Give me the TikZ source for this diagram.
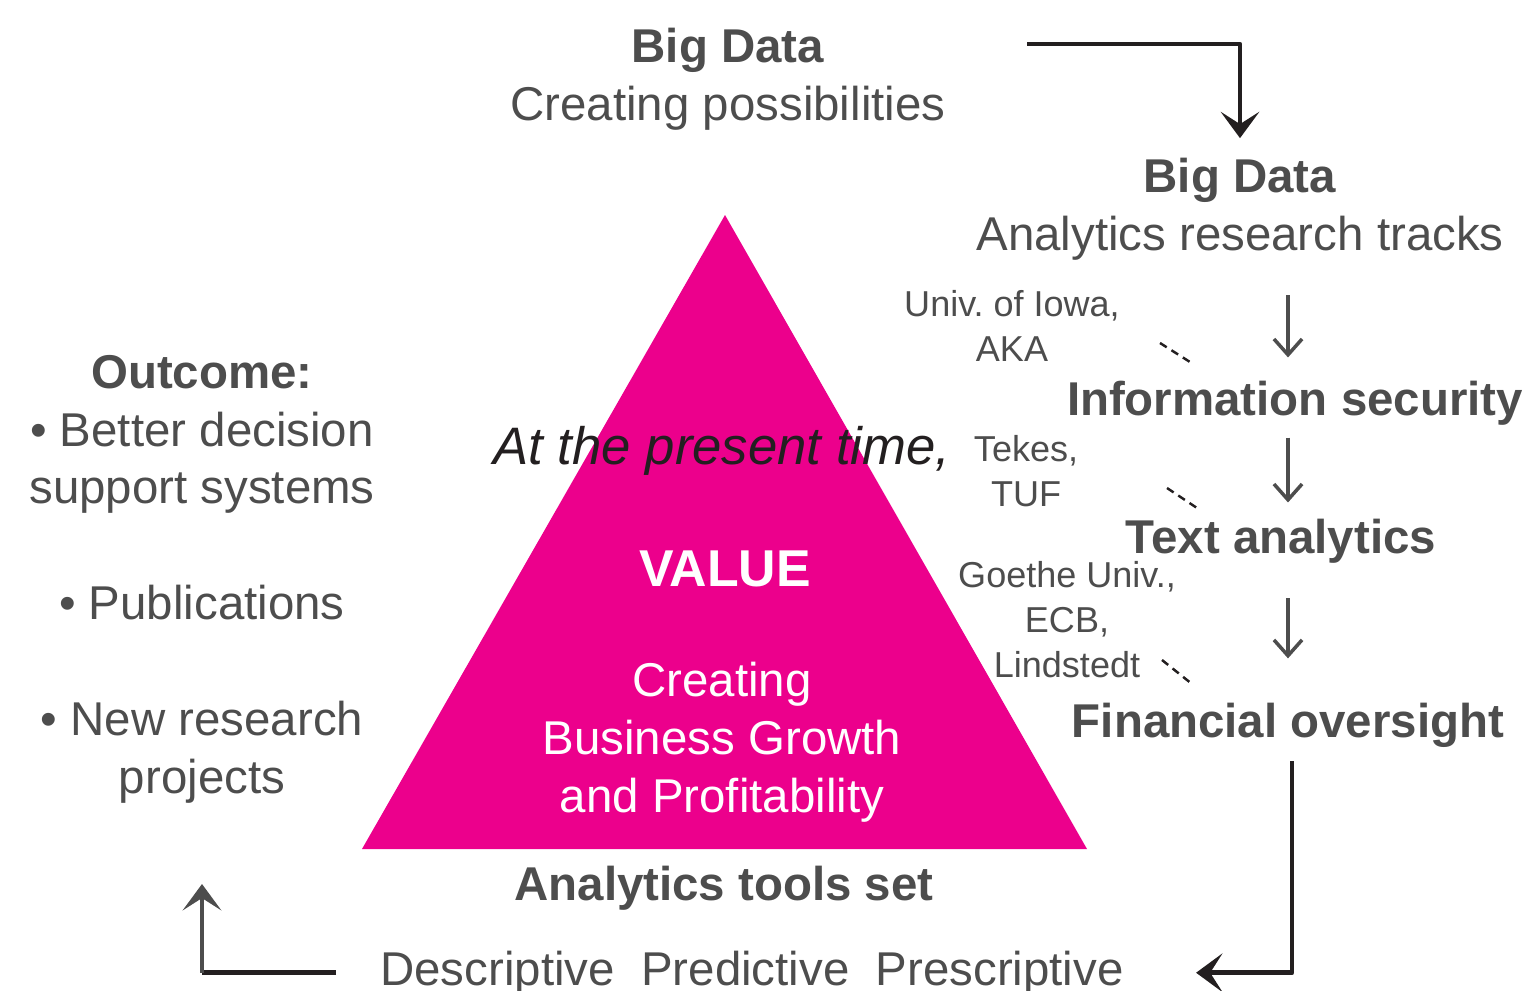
\documentclass[tikz,border=0pt]{standalone}
\usepackage{fontspec}
\setmainfont{Liberation Sans}
\usetikzlibrary{arrows.meta}
\definecolor{txtgrey}{HTML}{4D4D4D}
\definecolor{inkblack}{HTML}{231F20}
\definecolor{valuepink}{HTML}{EC008C}
\newcommand\bigsize{\fontsize{27}{32.9}\selectfont}
\newcommand\notesize{\fontsize{20.5}{25.5}\selectfont}
\newcommand\italsize{\fontsize{30}{36}\selectfont}
\newcommand\valsize{\fontsize{29.5}{36}\selectfont}
\frenchspacing
\begin{document}
\begin{tikzpicture}[x=0.02cm,y=-0.02cm,line join=round,
	txt/.style={font=\bigsize,text=txtgrey,inner sep=0pt,align=center,anchor=base},
	ttl/.style={txt,font=\bigsize\bfseries},
	note/.style={txt,font=\notesize},
	blkarr/.style={draw=inkblack,line width=2.6pt,-{Stealth[length=15pt,width=22pt,inset=7pt]}},
	grarr/.style={draw=txtgrey,line width=2pt,-{Straight Barb[length=9pt,width=16pt]}},
	dsh/.style={draw=inkblack,line width=1.4pt,dash pattern=on 4.5pt off 3.2pt}]
	\useasboundingbox (0,0) rectangle (1529,991);
	% value triangle
	\fill[valuepink] (725,215)--(1087,849)--(362,849)--cycle;
	\path
	(728,120) node[txt] (possib) {\textbf{Big Data}\\Creating possibilities}
	(1240,250) node[txt] (tracks) {\textbf{Big Data}\\Analytics research tracks}
	(1295,415) node[ttl] (infosec) {Information security}
	(1281,553) node[ttl] (textan) {Text analytics}
	(1288,737) node[ttl] (finover) {Financial oversight}
	(1012,361) node[note] (iowa) {Univ. of Iowa,\\AKA}
	(1026,506) node[note] (tekes) {Tekes,\\TUF}
	(1067,677) node[note] (goethe) {Goethe Univ.,\\ECB,\\Lindstedt}
	(202,793) node[txt] (outcome) {\textbf{Outcome:}\\• Better decision\\support systems\\[32.9pt]• Publications\\[32.9pt]• New research\\projects}
	(722,464) node[txt,font=\italsize\itshape,text=inkblack] (present) {At the present time,}
	(725,586) node[txt,font=\valsize\bfseries,text=white] (value) {VALUE}
	(722,812) node[txt,text=white] (growth) {Creating\\Business Growth\\and Profitability}
	(724,900) node[ttl] (toolset) {Analytics tools set}
	(752,985) node[txt] (methods) {Descriptive\ \ Predictive\ \ Prescriptive}
	;
	\coordinate (topstart) at (1027,44);
	\coordinate (trackx) at (1288,0);
	\draw[blkarr,shorten >=11pt] (topstart) -| (tracks.north);
	\draw[grarr,shorten <=20pt,shorten >=13pt] (tracks.south -| trackx) -- (infosec.north -| trackx);
	\draw[grarr,shorten <=7pt,shorten >=9pt] (infosec.south -| trackx) -- (textan.north -| trackx);
	\draw[grarr,shorten <=20pt,shorten >=25pt] (textan.south -| trackx) -- (finover.north -| trackx);
	\draw[blkarr,shorten <=8pt,shorten >=41pt] ([xshift=2.3pt]finover.south) |- (methods.east);
	\coordinate (lcorner) at (outcome.south |- methods.east);
	\draw[draw=inkblack,line width=2.6pt,shorten <=25pt] (methods.west) -- (lcorner);
	\draw[blkarr,draw=txtgrey,shorten >=46pt] (lcorner) -- (outcome.south);
	% dashed ticks
	\draw[dsh] (1160,343) -- (1190,362);
	\draw[dsh] (1167,488) -- (1197,508);
	\draw[dsh] (1162,660) -- (1192,684);
\end{tikzpicture}
\end{document}
